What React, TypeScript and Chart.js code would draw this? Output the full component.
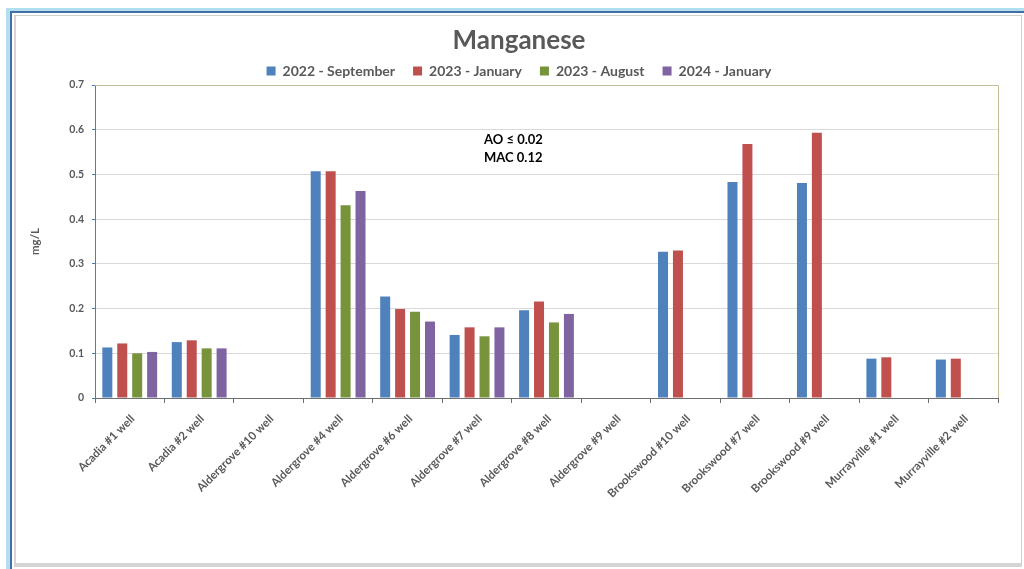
import React, { useEffect, useRef } from "react";
import { Chart, registerables } from "chart.js";

Chart.register(...registerables);

// ---------- data ----------
const CATEGORIES = [
  "Acadia #1 well",
  "Acadia #2 well",
  "Aldergrove #10 well",
  "Aldergrove #4 well",
  "Aldergrove #6 well",
  "Aldergrove #7 well",
  "Aldergrove #8 well",
  "Aldergrove #9 well",
  "Brookswood #10 well",
  "Brookswood #7 well",
  "Brookswood #9 well",
  "Murrayville #1 well",
  "Murrayville #2 well",
];

const SERIES_NAMES = ["2022 - September", "2023 - January", "2023 - August", "2024 - January"];

const SEP_2022 = [0.113, 0.125, null, 0.507, 0.227, 0.141, 0.196, null, 0.327, 0.483, 0.481, 0.088, 0.086];
const JAN_2023 = [0.122, 0.129, null, 0.507, 0.199, 0.158, 0.216, null, 0.330, 0.568, 0.593, 0.091, 0.088];
const AUG_2023 = [0.1, 0.111, null, 0.431, 0.193, 0.138, 0.169, null, null, null, null, null, null];
const JAN_2024 = [0.103, 0.111, null, 0.463, 0.171, 0.158, 0.188, null, null, null, null, null, null];

const SERIES_COLORS = ["#4F81BD", "#C0504D", "#77933C", "#8064A2"];

const Y_MIN = 0;
const Y_MAX = 0.7;
const Y_STEP = 0.1;

const TITLE = "Manganese";
const Y_TITLE = "mg/L";
const NOTE_LINES = ["AO \u2264 0.02", "MAC 0.12"];
const NOTE_CATEGORY_INDEX = 5;
const NOTE_VALUE = 0.577;

const FONT = "Lato, 'Open Sans', sans-serif";

const plotBorderPlugin = {
  id: "plotBorder",
  beforeDatasetsDraw(chart: any) {
    const { ctx, chartArea } = chart;
    ctx.save();
    ctx.strokeStyle = "#C4BC96";
    ctx.lineWidth = 1;
    ctx.beginPath();
    ctx.moveTo(chartArea.left, chartArea.top + 0.5);
    ctx.lineTo(chartArea.right + 0.5, chartArea.top + 0.5);
    ctx.lineTo(chartArea.right + 0.5, chartArea.bottom);
    ctx.stroke();
    ctx.restore();
  },
};

const notePlugin = {
  id: "note",
  afterDraw(chart: any) {
    const { ctx } = chart;
    const x = chart.scales.x.getPixelForValue(NOTE_CATEGORY_INDEX) + 7;
    const y = chart.scales.y.getPixelForValue(NOTE_VALUE);
    ctx.save();
    ctx.fillStyle = "#000000";
    ctx.font = `bold 13px ${FONT}`;
    ctx.textAlign = "left";
    ctx.textBaseline = "middle";
    NOTE_LINES.forEach((line, i) => ctx.fillText(line, x, y + i * 18));
    ctx.restore();
  },
};

function ChartCanvas() {
  const ref = useRef<HTMLCanvasElement | null>(null);
  useEffect(() => {
    if (!ref.current) return;
    const seriesData = [SEP_2022, JAN_2023, AUG_2023, JAN_2024];
    const chart = new Chart(ref.current, {
      type: "bar",
      data: {
        labels: CATEGORIES,
        datasets: SERIES_NAMES.map((name, i) => ({
          label: name,
          data: seriesData[i],
          backgroundColor: SERIES_COLORS[i],
          borderWidth: 0,
          categoryPercentage: 0.86,
          barPercentage: 0.67,
        })),
      },
      options: {
        animation: false,
        responsive: false,
        devicePixelRatio: 1,
        layout: { padding: { top: 10, left: 40, right: 26, bottom: 21 } },
        plugins: {
          tooltip: { enabled: false },
          title: {
            display: true,
            text: TITLE,
            color: "#595959",
            font: { family: FONT, size: 26, weight: "bold", lineHeight: 1.2 },
            padding: { top: 15.4, bottom: -10.6 },
          },
          legend: {
            display: true,
            position: "top",
            maxHeight: 39,
            labels: {
              boxWidth: 9,
              boxHeight: 9,
              padding: 18,
              color: "#595959",
              font: { family: FONT, size: 14, weight: "bold" },
            },
          },
        },
        scales: {
          x: {
            afterFit(scale: any) {
              scale.height = 150;
            },
            grid: {
              offset: true,
              drawOnChartArea: false,
              drawTicks: true,
              tickLength: 5,
              tickColor: "#6E6E6E",
            },
            border: { display: true, color: "#6E6E6E", width: 1 },
            ticks: {
              minRotation: 45,
              maxRotation: 45,
              autoSkip: false,
              color: "#595959",
              font: { family: FONT, size: 11.5, weight: "bold" },
              padding: 9,
              labelOffset: 3,
            },
          },
          y: {
            min: Y_MIN,
            max: Y_MAX,
            afterFit(scale: any) {
              scale.width = 55;
            },
            ticks: {
              stepSize: Y_STEP,
              color: "#595959",
              font: { family: FONT, size: 10.5, weight: "bold" },
              padding: 8,
            },
            grid: {
              color: "#D9D9D9",
              tickColor: "#4A7EBB",
              tickLength: 3,
            },
            border: { display: true, color: "#4A7EBB", width: 1 },
            title: {
              display: true,
              text: Y_TITLE,
              color: "#595959",
              font: { family: FONT, size: 11.5, weight: "bold" },
              padding: { top: -11.9, bottom: 0 },
            },
          },
        },
      },
      plugins: [plotBorderPlugin, notePlugin],
    } as any);
    return () => chart.destroy();
  }, []);
  return (
    <canvas
      ref={ref}
      width={1024}
      height={569}
      style={{ position: "fixed", left: 0, top: 0, width: 1024, height: 569, zIndex: 2 }}
    />
  );
}

export default function App() {
  return (
    <div style={{ position: "fixed", left: 0, top: 0, width: 1024, height: 569, background: "#FFFFFF", overflow: "hidden" }}>
      <div
        style={{
          position: "absolute",
          left: 6,
          top: 8,
          width: 1040,
          height: 600,
          borderTop: "4px solid #B2DFEF",
          borderLeft: "4px solid #B2DFEF",
          boxSizing: "border-box",
        }}
      />
      <div
        style={{
          position: "absolute",
          left: 10,
          top: 11,
          width: 1040,
          height: 600,
          borderTop: "2px solid #4170A8",
          borderLeft: "2px solid #4170A8",
          boxSizing: "border-box",
        }}
      />
      <div
        style={{
          position: "absolute",
          left: 14,
          top: 15,
          width: 1008,
          height: 552,
          border: "1px solid #D0D0D0",
          borderBottom: "4px solid #D4D4D4",
          borderLeft: "2px solid #D4D4D4",
          boxSizing: "border-box",
        }}
      />
      <ChartCanvas />
    </div>
  );
}
